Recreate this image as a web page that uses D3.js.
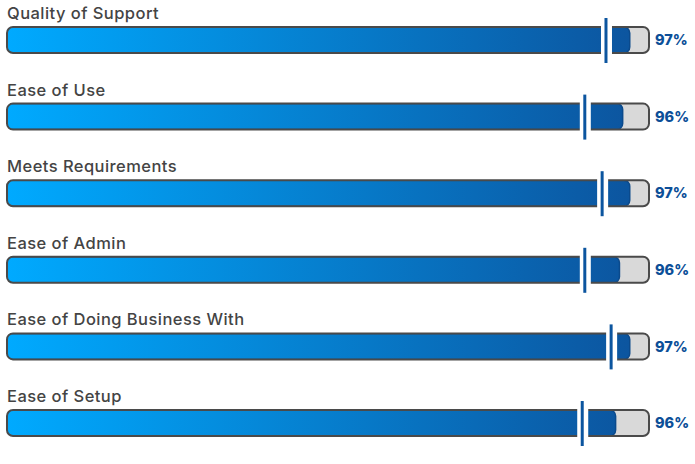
<!DOCTYPE html>
<html>
<head>
<meta charset="utf-8">
<script src="https://cdn.jsdelivr.net/npm/d3@7/dist/d3.min.js"></script>
<style>
  html, body { margin: 0; padding: 0; background: #fff; }
  svg { display: block; }
</style>
</head>
<body>
<div id="chart"></div>
<script>
// ---- data ----
const categories = ["Quality of Support", "Ease of Use", "Meets Requirements", "Ease of Admin", "Ease of Doing Business With", "Ease of Setup"];
const scores = [97.0, 95.9, 97.0, 95.4, 97.0, 94.8];
const averages = [93.3, 90.0, 92.7, 90.0, 94.1, 89.6];
const scoreLabels = ["97%", "96%", "97%", "96%", "97%", "96%"];

// ---- layout ----
const W = 695, H = 464;
const trackH = 26;
const svg = d3.select("#chart").append("svg").attr("width", W).attr("height", H);

const defs = svg.append("defs");
const grad = defs.append("linearGradient").attr("id", "barGrad").attr("gradientUnits", "userSpaceOnUse")
  .attr("x1", 7).attr("x2", 630).attr("y1", 0).attr("y2", 0);
grad.append("stop").attr("offset", "0%").attr("stop-color", "#00aaff");
grad.append("stop").attr("offset", "100%").attr("stop-color", "#0c559f");

const x = d3.scaleLinear().domain([0, 100]).range([7, 649]);
const y = d3.scalePoint().domain(categories).range([27, 410]);

const rows = svg.selectAll("g.row").data(categories).join("g")
  .attr("class", "row")
  .attr("transform", d => `translate(0,${y(d)})`);

rows.each(function(d, i) {
  const g = d3.select(this);
  const clipId = "clip" + i;
  defs.append("clipPath").attr("id", clipId)
    .append("rect").attr("x", x(0)).attr("y", 0).attr("width", x(100) - x(0)).attr("height", trackH).attr("rx", 6);

  // label
  g.append("text")
    .attr("x", 7).attr("y", -8)
    .attr("font-family", "Inter, 'Open Sans', sans-serif")
    .attr("font-weight", 500)
    .attr("font-size", 16.5)
    .attr("letter-spacing", 0.45)
    .attr("fill", "#444")
    .text(d);

  // track background
  g.append("rect")
    .attr("x", x(0)).attr("y", 0)
    .attr("width", x(100) - x(0)).attr("height", trackH)
    .attr("rx", 6)
    .attr("fill", "#d9d9d9");

  // filled bar
  g.append("g").attr("clip-path", `url(#${clipId})`)
    .append("rect")
    .attr("x", x(0) - 8).attr("y", 0)
    .attr("width", x(scores[i]) - x(0) + 8).attr("height", trackH)
    .attr("rx", 6)
    .attr("fill", "url(#barGrad)")
    .attr("stroke", "#0b4a8c").attr("stroke-width", 1.5);

  // track outline
  g.append("rect")
    .attr("x", x(0)).attr("y", 0)
    .attr("width", x(100) - x(0)).attr("height", trackH)
    .attr("rx", 6)
    .attr("fill", "none")
    .attr("stroke", "#4a4a4a").attr("stroke-width", 2);

  // marker gap + line
  const mx = x(averages[i]);
  g.append("rect")
    .attr("x", mx - 5).attr("y", -2)
    .attr("width", 11).attr("height", trackH + 4)
    .attr("fill", "#fff");
  g.append("line")
    .attr("x1", mx).attr("x2", mx)
    .attr("y1", -9).attr("y2", trackH + 10)
    .attr("stroke", "#0c559f").attr("stroke-width", 3);

  // percent label
  g.append("text")
    .attr("x", 655).attr("y", trackH / 2)
    .attr("dy", "0.36em")
    .attr("font-family", "Inter, 'Open Sans', sans-serif")
    .attr("font-weight", 800)
    .attr("font-size", 14.5)
    .attr("fill", "#0c4f98")
    .text(scoreLabels[i]);
});
</script>
</body>
</html>
